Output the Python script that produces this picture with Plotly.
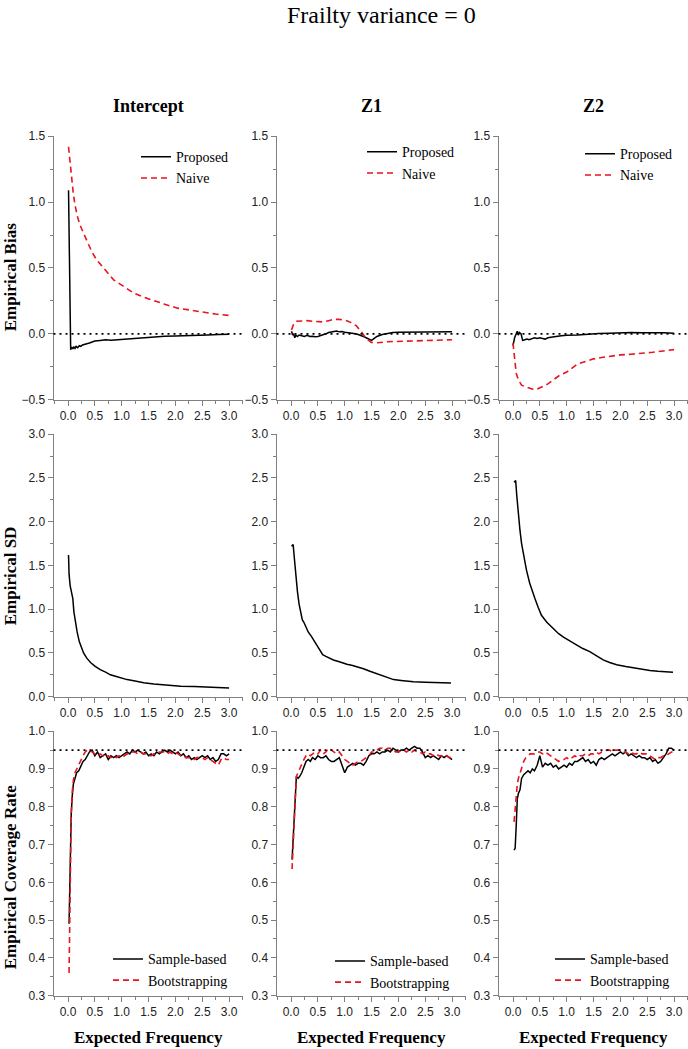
import plotly.graph_objects as go

# ---------------- data ----------------
COLUMNS = ["Intercept", "Z1", "Z2"]
ROW_TITLES = ["Empirical Bias", "Empirical SD", "Empirical Coverage Rate"]
X_TITLE = "Expected Frequency"
MAIN_TITLE = "Frailty variance = 0"
BIAS_NAMES = ["Proposed", "Naive"]
COV_NAMES = ["Sample-based", "Bootstrapping"]
BIAS_REF = 0.0
COV_REF = 0.95

# Row 1: empirical bias
X_BIAS_INT_PROP = [0.01, 0.05, 0.07, 0.09, 0.11, 0.13, 0.15, 0.18, 0.21, 0.24, 0.27, 0.30, 0.35, 0.40, 0.45,
                   0.50, 0.60, 0.70, 0.80, 0.90, 1.00, 1.20, 1.40, 1.60, 1.80, 2.00, 2.20, 2.40, 2.60, 2.80, 3.00]
Y_BIAS_INT_PROP = [1.09, -0.12, -0.10, -0.115, -0.10, -0.11, -0.095, -0.105, -0.09, -0.095, -0.085, -0.08, -0.075,
                   -0.07, -0.06, -0.055, -0.05, -0.045, -0.048, -0.045, -0.04, -0.033, -0.027, -0.022, -0.018,
                   -0.016, -0.012, -0.01, -0.008, -0.006, -0.003]
X_BIAS_INT_NAIVE = [0.01, 0.04, 0.07, 0.10, 0.13, 0.17, 0.22, 0.28, 0.33, 0.38, 0.45, 0.52, 0.60, 0.70, 0.85,
                    1.00, 1.10, 1.22, 1.40, 1.60, 1.80, 2.04, 2.25, 2.48, 2.75, 3.00]
Y_BIAS_INT_NAIVE = [1.42, 1.28, 1.16, 1.06, 0.98, 0.90, 0.83, 0.77, 0.72, 0.68, 0.62, 0.57, 0.53, 0.48, 0.41,
                    0.37, 0.34, 0.31, 0.28, 0.25, 0.225, 0.195, 0.18, 0.165, 0.15, 0.14]

X_BIAS_Z1_PROP = [0.01, 0.03, 0.05, 0.07, 0.09, 0.12, 0.15, 0.20, 0.25, 0.30, 0.35, 0.40, 0.45, 0.50, 0.55,
                  0.60, 0.65, 0.70, 0.75, 0.80, 0.85, 0.90, 0.95, 1.00, 1.05, 1.10, 1.15, 1.20, 1.25, 1.30,
                  1.35, 1.40, 1.45, 1.50, 1.55, 1.60, 1.70, 1.80, 1.90, 2.00, 2.20, 2.40, 2.60, 2.80, 3.00]
Y_BIAS_Z1_PROP = [0.02, -0.01, 0.0, -0.03, -0.01, -0.02, -0.01, -0.015, -0.02, -0.012, -0.02, -0.018, -0.022,
                  -0.02, -0.015, -0.005, 0.0, 0.01, 0.015, 0.018, 0.022, 0.015, 0.018, 0.012, 0.01, 0.008, 0.005,
                  0.0, -0.005, -0.01, -0.02, -0.03, -0.04, -0.05, -0.035, -0.02, -0.005, 0.005, 0.01, 0.012,
                  0.012, 0.015, 0.015, 0.015, 0.015]
X_BIAS_Z1_NAIVE = [0.01, 0.05, 0.10, 0.20, 0.30, 0.40, 0.50, 0.60, 0.70, 0.80, 0.90, 1.04, 1.12, 1.22, 1.30,
                   1.41, 1.50, 1.60, 1.80, 2.00, 2.20, 2.50, 2.80, 3.00]
Y_BIAS_Z1_NAIVE = [0.03, 0.075, 0.095, 0.10, 0.10, 0.095, 0.09, 0.09, 0.10, 0.11, 0.11, 0.10, 0.085, 0.06, 0.02,
                   -0.04, -0.065, -0.068, -0.06, -0.057, -0.055, -0.05, -0.048, -0.045]

X_BIAS_Z2_PROP = [0.00, 0.03, 0.06, 0.08, 0.10, 0.12, 0.15, 0.18, 0.22, 0.26, 0.30, 0.35, 0.40, 0.45, 0.50,
                  0.55, 0.60, 0.65, 0.70, 0.80, 0.90, 1.00, 1.20, 1.40, 1.60, 1.80, 2.00, 2.20, 2.40, 2.60,
                  2.80, 3.00]
Y_BIAS_Z2_PROP = [-0.09, -0.03, 0.0, 0.02, -0.01, 0.01, 0.0, -0.05, -0.045, -0.04, -0.045, -0.035, -0.03,
                  -0.035, -0.03, -0.035, -0.04, -0.03, -0.025, -0.02, -0.015, -0.01, -0.008, 0.0, 0.003, 0.005,
                  0.008, 0.01, 0.008, 0.01, 0.008, 0.005]
X_BIAS_Z2_NAIVE = [0.00, 0.03, 0.06, 0.10, 0.16, 0.22, 0.30, 0.37, 0.45, 0.55, 0.65, 0.75, 0.85, 1.00, 1.10,
                   1.20, 1.35, 1.50, 1.65, 1.80, 2.00, 2.20, 2.40, 2.60, 2.80, 3.00]
Y_BIAS_Z2_NAIVE = [-0.07, -0.22, -0.30, -0.35, -0.39, -0.40, -0.41, -0.42, -0.42, -0.40, -0.38, -0.35, -0.32,
                   -0.29, -0.26, -0.23, -0.21, -0.19, -0.18, -0.17, -0.16, -0.155, -0.15, -0.14, -0.13, -0.12]

# Row 2: empirical SD
X_SD_INT = [0.01, 0.02, 0.04, 0.06, 0.09, 0.11, 0.14, 0.17, 0.21, 0.25, 0.29, 0.35, 0.42, 0.50, 0.54, 0.60,
            0.70, 0.79, 0.90, 1.10, 1.25, 1.41, 1.60, 1.85, 2.10, 2.35, 2.60, 2.80, 3.00]
Y_SD_INT = [1.62, 1.40, 1.27, 1.20, 1.12, 0.97, 0.85, 0.74, 0.63, 0.56, 0.50, 0.44, 0.39, 0.35, 0.33, 0.31,
            0.28, 0.25, 0.23, 0.195, 0.18, 0.16, 0.145, 0.13, 0.12, 0.115, 0.108, 0.104, 0.10]
X_SD_Z1 = [0.01, 0.04, 0.06, 0.09, 0.12, 0.15, 0.18, 0.21, 0.24, 0.28, 0.32, 0.38, 0.43, 0.48, 0.53, 0.59,
           0.65, 0.72, 0.79, 0.90, 1.04, 1.13, 1.22, 1.35, 1.47, 1.60, 1.72, 1.82, 1.91, 2.05, 2.28, 2.50,
           2.70, 2.85, 2.98]
Y_SD_Z1 = [1.72, 1.74, 1.60, 1.38, 1.20, 1.06, 0.95, 0.88, 0.85, 0.80, 0.74, 0.69, 0.64, 0.59, 0.54, 0.48,
           0.46, 0.44, 0.42, 0.40, 0.37, 0.36, 0.345, 0.32, 0.29, 0.26, 0.23, 0.21, 0.195, 0.185, 0.17, 0.165,
           0.16, 0.158, 0.155]
X_SD_Z2 = [0.02, 0.05, 0.07, 0.10, 0.13, 0.16, 0.20, 0.25, 0.31, 0.36, 0.41, 0.47, 0.53, 0.63, 0.75, 0.85,
           0.94, 1.06, 1.19, 1.30, 1.43, 1.55, 1.68, 1.80, 1.93, 2.10, 2.24, 2.40, 2.55, 2.70, 2.85, 2.98]
Y_SD_Z2 = [2.45, 2.47, 2.30, 2.05, 1.90, 1.75, 1.60, 1.45, 1.30, 1.20, 1.12, 1.02, 0.93, 0.85, 0.78, 0.72,
           0.68, 0.64, 0.59, 0.55, 0.515, 0.47, 0.42, 0.39, 0.365, 0.345, 0.33, 0.315, 0.30, 0.29, 0.283, 0.28]

# Row 3: empirical coverage rate (common x grid)
X_COV = [0.02, 0.04, 0.06, 0.08, 0.10, 0.13, 0.16, 0.20, 0.24, 0.28, 0.32, 0.36,
         0.40, 0.45, 0.50, 0.55, 0.60, 0.65, 0.70, 0.75, 0.80, 0.85, 0.90, 0.95,
         1.00, 1.05, 1.10, 1.15, 1.20, 1.25, 1.30, 1.35, 1.40, 1.45,
         1.50, 1.55, 1.60, 1.65, 1.70, 1.75, 1.80, 1.85, 1.90, 1.95,
         2.00, 2.05, 2.10, 2.15, 2.20, 2.25, 2.30, 2.35, 2.40, 2.45,
         2.50, 2.55, 2.60, 2.65, 2.70, 2.75, 2.80, 2.85, 2.90, 2.95,
         3.00]
COV_INT_SAMPLE = [0.49, 0.65, 0.78, 0.83, 0.86, 0.875, 0.89, 0.895, 0.91, 0.92, 0.925, 0.935,
                  0.945, 0.95, 0.935, 0.945, 0.93, 0.935, 0.94, 0.925, 0.935, 0.93, 0.935, 0.93,
                  0.935, 0.94, 0.945, 0.94, 0.95, 0.945, 0.95, 0.945, 0.94, 0.945,
                  0.935, 0.94, 0.935, 0.945, 0.94, 0.945, 0.95, 0.945, 0.95, 0.945,
                  0.94, 0.945, 0.935, 0.94, 0.93, 0.935, 0.925, 0.93, 0.925, 0.93,
                  0.935, 0.93, 0.935, 0.925, 0.93, 0.92, 0.925, 0.94, 0.94, 0.935,
                  0.94]
COV_INT_BOOT = [0.36, 0.62, 0.78, 0.84, 0.87, 0.89, 0.90, 0.91, 0.925, 0.935, 0.945, 0.95,
                0.95, 0.945, 0.94, 0.935, 0.94, 0.935, 0.93, 0.935, 0.93, 0.935, 0.93, 0.935,
                0.93, 0.935, 0.94, 0.94, 0.945, 0.945, 0.94, 0.945, 0.94, 0.94,
                0.935, 0.935, 0.94, 0.94, 0.945, 0.945, 0.945, 0.94, 0.945, 0.94,
                0.945, 0.94, 0.935, 0.935, 0.93, 0.93, 0.93, 0.925, 0.93, 0.93,
                0.93, 0.925, 0.93, 0.925, 0.92, 0.915, 0.91, 0.925, 0.93, 0.925,
                0.925]
COV_Z1_SAMPLE = [0.66, 0.72, 0.78, 0.85, 0.88, 0.875, 0.88, 0.89, 0.905, 0.92, 0.925, 0.92,
                 0.93, 0.925, 0.935, 0.93, 0.93, 0.935, 0.925, 0.92, 0.92, 0.925, 0.93, 0.91,
                 0.89, 0.905, 0.91, 0.915, 0.91, 0.915, 0.915, 0.91, 0.92, 0.935,
                 0.94, 0.94, 0.945, 0.94, 0.945, 0.945, 0.95, 0.945, 0.955, 0.95,
                 0.945, 0.95, 0.95, 0.955, 0.95, 0.955, 0.96, 0.955, 0.955, 0.945,
                 0.93, 0.935, 0.93, 0.935, 0.93, 0.925, 0.935, 0.93, 0.935, 0.93,
                 0.925]
COV_Z1_BOOT = [0.635, 0.70, 0.78, 0.85, 0.88, 0.89, 0.90, 0.915, 0.925, 0.935, 0.94, 0.935,
               0.94, 0.945, 0.94, 0.95, 0.94, 0.945, 0.955, 0.95, 0.945, 0.94, 0.945, 0.935,
               0.925, 0.92, 0.915, 0.91, 0.915, 0.92, 0.92, 0.925, 0.93, 0.935,
               0.945, 0.945, 0.95, 0.955, 0.955, 0.95, 0.955, 0.955, 0.95, 0.945,
               0.945, 0.95, 0.95, 0.945, 0.95, 0.945, 0.95, 0.945, 0.945, 0.94,
               0.945, 0.94, 0.94, 0.935, 0.94, 0.935, 0.935, 0.93, 0.935, 0.93,
               0.93]
COV_Z2_SAMPLE = [0.685, 0.69, 0.75, 0.82, 0.835, 0.845, 0.875, 0.885, 0.89, 0.895, 0.89, 0.90,
                 0.895, 0.91, 0.935, 0.905, 0.915, 0.91, 0.915, 0.905, 0.91, 0.90, 0.905, 0.91,
                 0.905, 0.915, 0.91, 0.92, 0.92, 0.925, 0.93, 0.92, 0.925, 0.915,
                 0.92, 0.91, 0.925, 0.93, 0.925, 0.93, 0.935, 0.94, 0.935, 0.94,
                 0.945, 0.94, 0.945, 0.935, 0.94, 0.935, 0.93, 0.935, 0.93, 0.93,
                 0.925, 0.93, 0.92, 0.925, 0.915, 0.92, 0.93, 0.94, 0.955, 0.955,
                 0.95]
COV_Z2_BOOT = [0.76, 0.80, 0.83, 0.86, 0.875, 0.89, 0.905, 0.92, 0.93, 0.935, 0.94, 0.94,
               0.94, 0.945, 0.945, 0.94, 0.945, 0.94, 0.935, 0.93, 0.925, 0.92, 0.925, 0.925,
               0.93, 0.925, 0.93, 0.935, 0.93, 0.935, 0.935, 0.94, 0.935, 0.94,
               0.94, 0.945, 0.94, 0.945, 0.945, 0.95, 0.95, 0.945, 0.95, 0.95,
               0.95, 0.945, 0.945, 0.94, 0.945, 0.94, 0.94, 0.945, 0.94, 0.94,
               0.94, 0.935, 0.93, 0.925, 0.93, 0.93, 0.935, 0.935, 0.94, 0.945,
               0.945]

# ---------------- styling / layout ----------------
W, H = 688, 1049
SERIF = "Liberation Serif, Times New Roman, serif"
SANS = "Liberation Sans, Arial, sans-serif"
BLACK = "#000000"
RED = "#e8141e"
AXIS_GRAY = "#808080"

X_DOM_PX = [(53.5, 242.5), (276.5, 465.5), (498.5, 687.5)]
Y_DOM_PX = [(131, 398), (433, 699), (734, 1002)]
Y_RANGES = [(-0.5, 1.5), (0.0, 3.0), (0.3, 1.0)]
Y_DTICK = [0.5, 0.5, 0.1]
X_RANGE = (-0.27, 3.25)

LEGEND_POS_PX = {  # (left, top) in pixels
    (0, 0): (136, 136), (0, 1): (362, 131), (0, 2): (580, 133),
    (2, 0): (108, 949), (2, 1): (330, 951), (2, 2): (550, 949),
}

fig = go.Figure()

solid = dict(color=BLACK, width=1.5)
dashed = dict(color=RED, width=1.6, dash="6px,4px")

panels = {
    (0, 0): [(X_BIAS_INT_PROP, Y_BIAS_INT_PROP, BIAS_NAMES[0], solid),
             (X_BIAS_INT_NAIVE, Y_BIAS_INT_NAIVE, BIAS_NAMES[1], dashed)],
    (0, 1): [(X_BIAS_Z1_PROP, Y_BIAS_Z1_PROP, BIAS_NAMES[0], solid),
             (X_BIAS_Z1_NAIVE, Y_BIAS_Z1_NAIVE, BIAS_NAMES[1], dashed)],
    (0, 2): [(X_BIAS_Z2_PROP, Y_BIAS_Z2_PROP, BIAS_NAMES[0], solid),
             (X_BIAS_Z2_NAIVE, Y_BIAS_Z2_NAIVE, BIAS_NAMES[1], dashed)],
    (1, 0): [(X_SD_INT, Y_SD_INT, "SD", solid)],
    (1, 1): [(X_SD_Z1, Y_SD_Z1, "SD", solid)],
    (1, 2): [(X_SD_Z2, Y_SD_Z2, "SD", solid)],
    (2, 0): [(X_COV, COV_INT_SAMPLE, COV_NAMES[0], solid),
             (X_COV, COV_INT_BOOT, COV_NAMES[1], dashed)],
    (2, 1): [(X_COV, COV_Z1_SAMPLE, COV_NAMES[0], solid),
             (X_COV, COV_Z1_BOOT, COV_NAMES[1], dashed)],
    (2, 2): [(X_COV, COV_Z2_SAMPLE, COV_NAMES[0], solid),
             (X_COV, COV_Z2_BOOT, COV_NAMES[1], dashed)],
}

legend_ids = {}
for i, key in enumerate(sorted(LEGEND_POS_PX)):
    legend_ids[key] = "legend" if i == 0 else f"legend{i + 1}"

layout_axes = {}
for r in range(3):
    for c in range(3):
        k = r * 3 + c + 1
        xa = "xaxis" if k == 1 else f"xaxis{k}"
        ya = "yaxis" if k == 1 else f"yaxis{k}"
        xr = "x" if k == 1 else f"x{k}"
        yr = "y" if k == 1 else f"y{k}"
        x0, x1 = X_DOM_PX[c]
        yt, yb = Y_DOM_PX[r]
        common = dict(showgrid=False, zeroline=False, showline=True, linecolor=AXIS_GRAY, linewidth=1,
                      ticks="outside", ticklen=5, tickwidth=1, tickcolor=AXIS_GRAY,
                      tickfont=dict(family=SANS, size=12, color="#222222"), fixedrange=True)
        layout_axes[xa] = dict(common, domain=[x0 / W, x1 / W], range=list(X_RANGE), anchor=yr,
                               tick0=0, dtick=0.5, tickformat=".1f",
                               minor=dict(dtick=0.25, ticklen=3, tickcolor=AXIS_GRAY, ticks="outside"))
        layout_axes[ya] = dict(common, domain=[1 - yb / H, 1 - yt / H], range=list(Y_RANGES[r]),
                               anchor=xr, tick0=0, dtick=Y_DTICK[r], tickformat=".1f",
                               minor=dict(dtick=Y_DTICK[r] / 2, ticklen=3, tickcolor=AXIS_GRAY,
                                          ticks="outside"))
        for xs, ys, name, line in panels[(r, c)]:
            has_leg = (r, c) in legend_ids
            fig.add_trace(go.Scatter(x=xs, y=ys, mode="lines", name=name, line=line, xaxis=xr, yaxis=yr,
                                     showlegend=has_leg,
                                     legend=legend_ids.get((r, c), "legend"), hoverinfo="skip"))
        # reference lines
        if r == 0:
            fig.add_shape(type="line", xref=f"{xr} domain", x0=0, x1=1, yref=yr, y0=BIAS_REF, y1=BIAS_REF,
                          line=dict(color=BLACK, width=1.6, dash="2px,4px"))
        if r == 2:
            fig.add_shape(type="line", xref=f"{xr} domain", x0=0, x1=1, yref=yr, y0=COV_REF, y1=COV_REF,
                          line=dict(color=BLACK, width=1.6, dash="2px,4px"))

legends = {}
for key, lid in legend_ids.items():
    left, top = LEGEND_POS_PX[key]
    legends[lid] = dict(x=left / W, y=1 - top / H, xanchor="left", yanchor="top",
                        bgcolor="rgba(0,0,0,0)", borderwidth=0, tracegroupgap=0,
                        font=dict(family=SERIF, size=14, color=BLACK))

annotations = [dict(text=MAIN_TITLE, x=381 / W, y=1 - 8 / H, xref="paper", yref="paper",
                    showarrow=False, xanchor="center", yanchor="middle",
                    font=dict(family=SERIF, size=24, color=BLACK))]
for c, name in enumerate(COLUMNS):
    cx = (X_DOM_PX[c][0] + X_DOM_PX[c][1]) / 2
    annotations.append(dict(text=f"<b>{name}</b>", x=cx / W, y=1 - 100 / H, xref="paper", yref="paper",
                            showarrow=False, xanchor="center", yanchor="middle",
                            font=dict(family=SERIF, size=18, color=BLACK)))
    annotations.append(dict(text=f"<b>{X_TITLE}</b>", x=cx / W, y=1 - 1044 / H, xref="paper", yref="paper",
                            showarrow=False, xanchor="center", yanchor="middle",
                            font=dict(family=SERIF, size=17, color=BLACK)))
ROW_TITLE_Y_PX = [274, 577, 882]
for r, name in enumerate(ROW_TITLES):
    annotations.append(dict(text=f"<b>{name}</b>", x=10 / W, y=1 - ROW_TITLE_Y_PX[r] / H, xref="paper",
                            yref="paper", showarrow=False, textangle=-90, xanchor="center",
                            yanchor="middle", font=dict(family=SERIF, size=17, color=BLACK)))

fig.update_layout(width=W, height=H, margin=dict(l=0, r=0, t=0, b=0), plot_bgcolor="white",
                  paper_bgcolor="white", annotations=annotations, **layout_axes, **legends)

# remove the default page margin so the 688x1049 figure fills the window exactly
fig.write_html("out.html", config={"displayModeBar": False},
               post_script="document.body.style.margin='0';")
